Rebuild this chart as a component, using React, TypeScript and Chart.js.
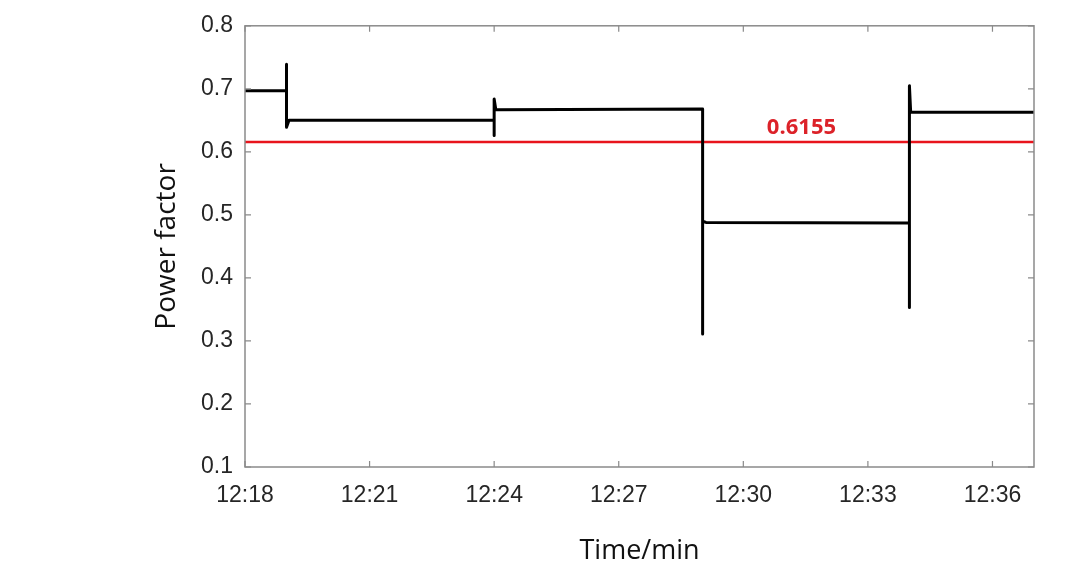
import React, { useEffect, useRef } from "react";
import { Chart, registerables } from "chart.js";

Chart.register(...registerables);

// Minutes elapsed since 12:18
const timeMinutes = [0, 1.0, 1.0, 1.0, 1.06, 6.0, 6.0, 6.0, 6.04, 11.02, 11.02, 11.02, 11.1, 16.0, 16.0, 16.0, 16.03, 19];
const powerFactor = [0.697, 0.697, 0.739, 0.639, 0.65, 0.65, 0.626, 0.684, 0.667, 0.668, 0.311, 0.49, 0.488, 0.487, 0.353, 0.705, 0.663, 0.663];
const thresholdValue = 0.6155;
const thresholdLabel = "0.6155";
const thresholdLabelAt = 13.4;
const xTickValues = [0, 3, 6, 9, 12, 15, 18];
const startHour = 12;
const startMinute = 18;
const xMin = 0;
const xMax = 19;
const yMin = 0.1;
const yMax = 0.8;

const fmtTime = (v: number) => {
  const total = startMinute + v;
  const h = startHour + Math.floor(total / 60);
  const m = total % 60;
  return `${h}:${String(m).padStart(2, "0")}`;
};

const boxPlugin = {
  id: "matlabBox",
  afterDatasetsDraw(chart: any) {
    const { ctx, chartArea: a, scales } = chart;
    ctx.save();
    ctx.strokeStyle = "#8a8a8a";
    ctx.lineWidth = 1.5;
    ctx.strokeRect(a.left, a.top, a.right - a.left, a.bottom - a.top);
    const len = 6;
    ctx.lineWidth = 1.2;
    scales.x.ticks.forEach((t: any) => {
      const px = scales.x.getPixelForValue(t.value);
      ctx.beginPath();
      ctx.moveTo(px, a.bottom);
      ctx.lineTo(px, a.bottom - len);
      ctx.moveTo(px, a.top);
      ctx.lineTo(px, a.top + len);
      ctx.stroke();
    });
    scales.y.ticks.forEach((t: any) => {
      const py = scales.y.getPixelForValue(t.value);
      ctx.beginPath();
      ctx.moveTo(a.left, py);
      ctx.lineTo(a.left + len, py);
      ctx.moveTo(a.right, py);
      ctx.lineTo(a.right - len, py);
      ctx.stroke();
    });
    // threshold label
    const lx = scales.x.getPixelForValue(thresholdLabelAt);
    const ly = scales.y.getPixelForValue(thresholdValue);
    ctx.fillStyle = "#dc2229";
    ctx.font = "bold 22px 'Open Sans', sans-serif";
    ctx.textAlign = "center";
    ctx.textBaseline = "bottom";
    ctx.fillText(thresholdLabel, lx, ly - 3);
    ctx.restore();
  },
};

export default function App() {
  const ref = useRef<HTMLCanvasElement | null>(null);
  useEffect(() => {
    if (!ref.current) return;
    const chart = new Chart(ref.current, {
      type: "line",
      data: {
        datasets: [
          {
            label: "Power factor",
            data: timeMinutes.map((x, i) => ({ x, y: powerFactor[i] })),
            borderColor: "#000000",
            borderWidth: 3,
            borderJoinStyle: "round",
            pointRadius: 0,
            tension: 0,
          },
          {
            label: "Threshold",
            data: [
              { x: xMin, y: thresholdValue },
              { x: xMax, y: thresholdValue },
            ],
            borderColor: "#e8141c",
            borderWidth: 2.5,
            pointRadius: 0,
          },
        ],
      },
      options: {
        animation: false,
        responsive: false,
        maintainAspectRatio: false,
        layout: { padding: { left: 150, right: 36, top: 23, bottom: 8 } },
        plugins: { legend: { display: false }, tooltip: { enabled: false } },
        scales: {
          x: {
            type: "linear",
            min: xMin,
            max: xMax,
            afterBuildTicks: (s: any) => {
              s.ticks = xTickValues.map((v) => ({ value: v }));
            },
            ticks: {
              callback: (v: any) => fmtTime(Number(v)),
              color: "#262626",
              font: { family: "'Liberation Sans', Arial, sans-serif", size: 23 },
              padding: 15,
              maxRotation: 0,
              autoSkip: false,
            },
            grid: { display: false, drawTicks: false },
            border: { display: false },
            title: {
              display: true,
              text: "Time/min",
              color: "#111111",
              font: { family: "'Open Sans', sans-serif", size: 27 },
              padding: { top: 0, bottom: 9 },
            },
            afterFit: (s: any) => {
              s.height = 585 - 467 - 8;
            },
          },
          y: {
            min: yMin,
            max: yMax,
            ticks: {
              stepSize: 0.1,
              callback: (v: any) => Number(v).toFixed(1),
              color: "#262626",
              font: { family: "'Liberation Sans', Arial, sans-serif", size: 23 },
              padding: 12,
            },
            grid: { display: false, drawTicks: false },
            border: { display: false },
            title: {
              display: true,
              text: "Power factor",
              color: "#111111",
              font: { family: "'Open Sans', sans-serif", size: 28 },
              padding: { top: 0, bottom: 0 },
            },
            afterFit: (s: any) => {
              s.width = 245 - 150;
            },
          },
        },
      },
      plugins: [boxPlugin],
    });
    return () => chart.destroy();
  }, []);
  return (
    <div style={{ position: "fixed", left: 0, top: 0, width: 1070, height: 585, background: "#fff" }}>
      <canvas ref={ref} width={1070} height={585} style={{ width: 1070, height: 585 }} />
    </div>
  );
}
